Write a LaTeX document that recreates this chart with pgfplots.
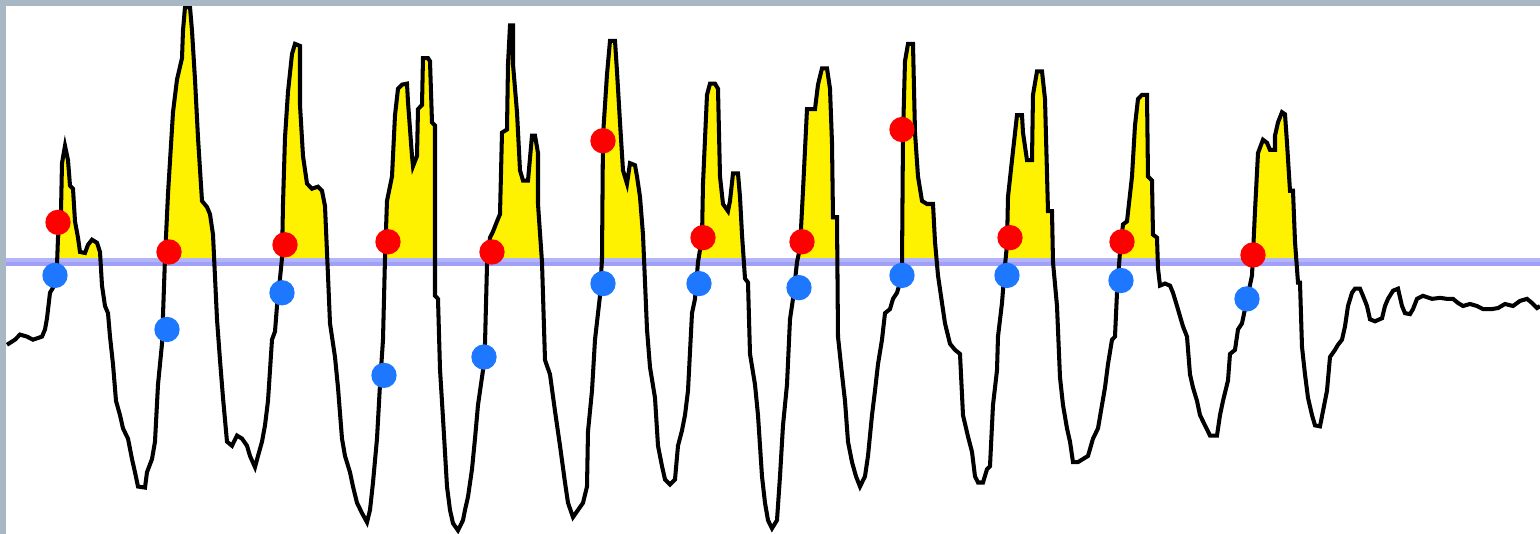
\documentclass[border=0pt]{standalone}
\usepackage{pgfplots}
\usepackage{pgfplotstable}
\pgfplotsset{compat=1.18}
\usepgfplotslibrary{fillbetween}
\definecolor{framecol}{HTML}{A7B7C3}
\definecolor{basetop}{HTML}{B4B4F8}
\definecolor{basebot}{HTML}{A0A0F8}
\definecolor{rdot}{HTML}{FF0000}
\definecolor{bdot}{HTML}{1E78FF}
\pgfplotstableread{
x y
7 338
15 333
20 328
27 330
33 333
42 330
45 323
47 312
50 287
53 282
57 260
58 233
61 207
62 160
65 143
68 157
70 182
73 185
75 217
78 233
80 247
85 248
88 240
92 235
97 238
100 247
102 280
105 300
108 307
110 330
113 357
116 393
120 407
123 420
128 430
132 450
135 463
138 477
145 478
147 463
152 450
155 433
158 377
162 337
165 253
168 190
173 110
177 78
182 57
183 30
185 7
190 7
192 30
195 78
198 135
202 197
207 203
210 210
213 230
217 313
220 353
223 390
227 433
232 437
237 427
242 430
247 437
250 447
255 458
258 447
262 433
265 417
268 393
272 333
275 325
277 300
280 273
282 253
283 200
285 135
288 90
292 53
295 43
300 45
300 103
303 153
307 180
312 185
318 183
322 187
325 202
328 270
330 317
335 350
338 380
342 430
345 447
350 463
353 477
357 493
362 503
367 512
370 500
373 473
377 430
380 377
383 333
385 253
387 197
392 173
395 113
398 87
402 83
407 82
408 100
412 153
413 163
417 153
418 107
422 103
423 57
428 57
430 60
432 120
435 123
435 290
438 293
440 362
443 410
447 477
450 500
453 513
458 520
463 510
465 500
468 487
472 460
475 430
478 397
483 363
485 337
487 260
490 233
493 227
497 217
500 210
502 130
507 127
508 63
510 25
513 25
513 63
517 110
520 167
523 177
528 177
532 133
535 133
538 150
538 200
542 257
545 353
550 367
555 403
560 437
565 473
568 493
573 507
578 500
583 493
587 477
588 423
592 383
595 333
600 290
602 253
603 133
607 73
610 40
615 40
617 70
620 120
623 167
627 180
630 160
635 162
637 173
640 193
643 230
647 323
650 360
655 390
658 437
662 457
665 470
670 475
675 470
678 437
682 422
685 407
688 383
692 307
695 293
698 257
702 233
703 180
707 93
710 82
715 82
718 87
720 173
723 200
728 207
730 197
733 170
738 170
740 193
742 230
745 273
748 277
750 347
755 377
758 407
762 467
765 493
768 510
772 518
777 510
780 467
783 417
787 377
790 313
793 293
797 257
800 243
803 187
807 107
815 107
818 83
822 67
827 67
830 87
832 140
833 213
837 213
838 330
842 367
845 393
848 433
852 453
856 467
860 477
865 467
868 447
872 407
875 383
878 357
882 333
885 307
890 303
893 293
897 287
900 277
902 260
903 133
905 60
908 43
913 43
915 130
918 173
922 197
927 200
933 200
935 237
938 270
942 297
945 317
950 337
955 343
960 347
963 407
968 428
972 443
975 467
978 473
983 473
987 460
990 457
993 397
997 363
998 330
1002 297
1005 260
1007 240
1008 193
1012 157
1017 113
1022 113
1023 130
1027 157
1032 157
1033 93
1037 70
1042 70
1045 97
1048 207
1052 207
1053 257
1057 300
1060 370
1063 397
1067 420
1070 433
1073 453
1078 453
1083 450
1088 447
1093 430
1098 420
1102 397
1105 380
1108 357
1112 333
1115 330
1117 287
1120 247
1123 220
1127 217
1132 173
1135 123
1138 97
1142 93
1147 93
1148 173
1152 177
1153 230
1157 233
1158 263
1160 280
1165 278
1170 280
1173 287
1177 300
1180 310
1183 320
1187 330
1190 367
1193 380
1197 393
1200 407
1205 417
1210 427
1217 427
1220 407
1223 393
1228 373
1230 347
1235 343
1238 323
1242 317
1245 303
1252 270
1255 207
1258 150
1263 137
1267 140
1270 147
1275 147
1275 133
1278 120
1282 110
1285 112
1287 140
1290 187
1293 187
1295 237
1298 277
1300 277
1302 340
1305 367
1308 390
1312 407
1315 417
1320 418
1323 403
1327 383
1330 350
1335 343
1338 338
1342 333
1345 320
1348 300
1352 287
1355 283
1360 283
1363 290
1367 300
1370 313
1375 315
1382 312
1385 300
1388 293
1393 285
1398 283
1402 300
1405 307
1410 308
1413 303
1417 293
1423 290
1432 293
1440 292
1447 293
1453 293
1458 297
1463 300
1470 298
1477 300
1483 303
1492 303
1498 302
1505 298
1513 300
1520 295
1527 293
1532 297
1537 302
1540 300
}\signal
\pgfplotstableread{
x y
58 218
169 247
285 240
388 237
492 247
603 138
703 233
802 237
902 127
1010 233
1122 237
1253 250
}\reddots
\pgfplotstableread{
x y
55 270
167 323
282 287
384 368
484 350
603 278
699 278
799 282
902 270
1007 270
1121 275
1247 293
}\bluedots
\begin{document}
\begin{tikzpicture}
\begin{axis}[
  width=15.4cm, height=5.34cm, scale only axis,
  xmin=0, xmax=1540, ymin=0, ymax=523.5, y dir=reverse,
  hide axis, clip=true,
]
% baseline (two tones)
\addplot[basetop, line width=1.2pt] coordinates {(0,255) (1540,255)};
\addplot[basebot, line width=1.2pt] coordinates {(0,259) (1540,259)};
\addplot[draw=none, name path=base, forget plot] coordinates {(0,257) (1540,257)};
\addplot[draw=none, name path=sig, forget plot] table[x=x,y=y] {\signal};
\addplot[fill=yellow, draw=none, blend mode=multiply] fill between[of=sig and base, soft clip={(axis cs:0,0) rectangle (axis cs:1540,257)}];
% signal
\addplot[black, line width=1.15pt, line join=miter] table[x=x,y=y] {\signal};
% dots
\addplot[only marks, mark=*, mark size=3.4pt, color=rdot, fill=rdot] table[x=x,y=y] {\reddots};
\addplot[only marks, mark=*, mark size=3.4pt, color=bdot, fill=bdot] table[x=x,y=y] {\bluedots};
% frame
\fill[framecol] (axis cs:0,0) rectangle (axis cs:1540,5.9);
\fill[framecol] (axis cs:0,0) rectangle (axis cs:6.5,523.5);
\end{axis}
\end{tikzpicture}
\end{document}
